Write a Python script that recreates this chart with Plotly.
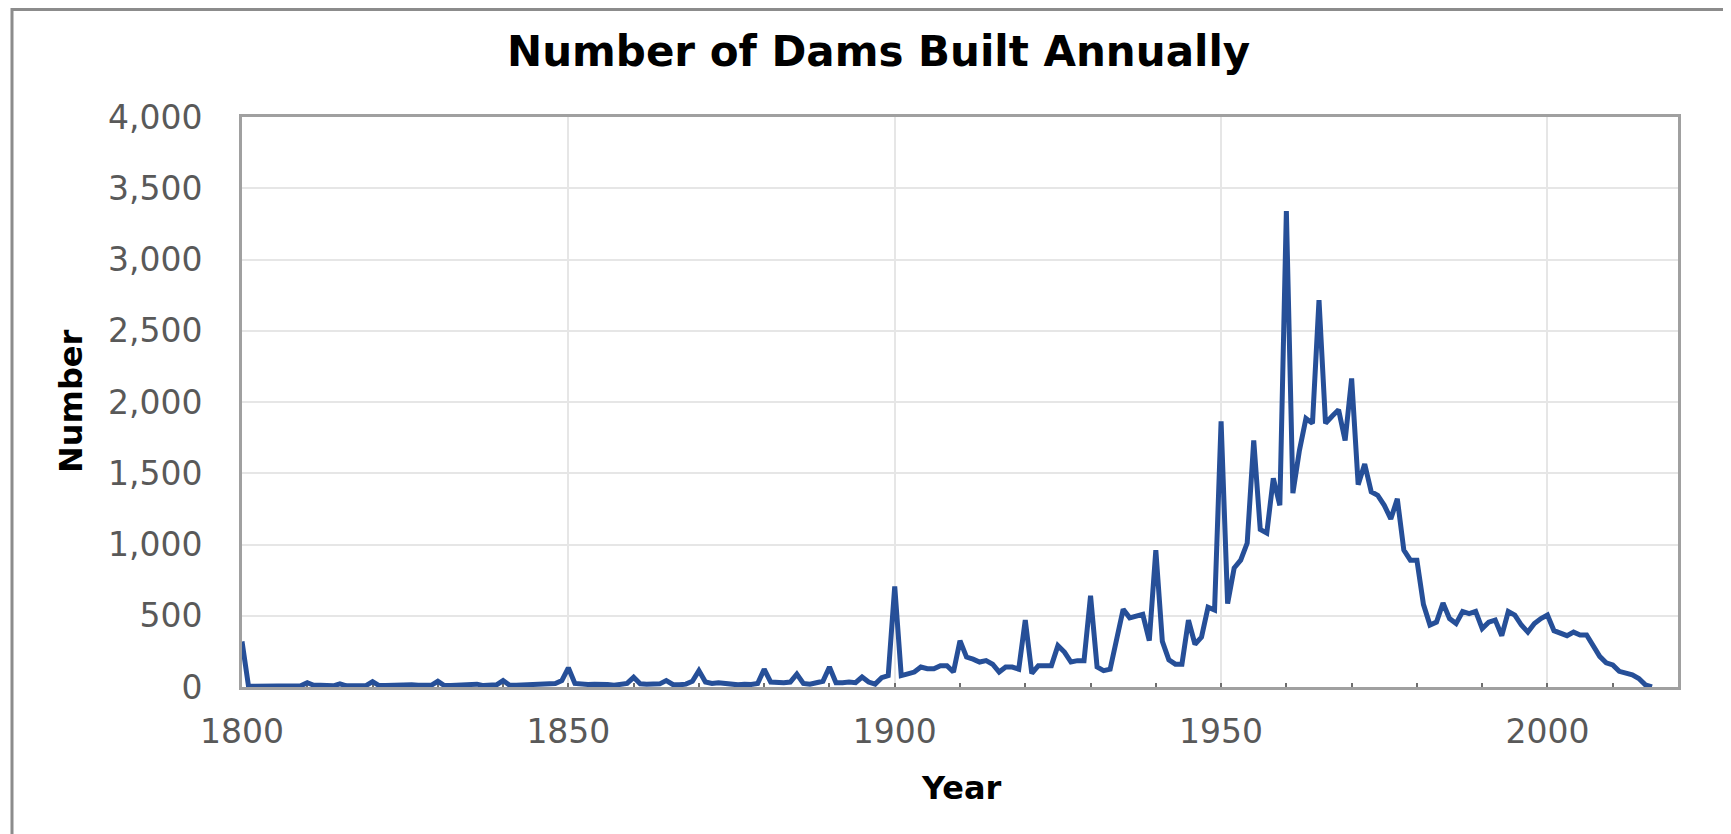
import plotly.graph_objects as go

# ---- data ----
years = list(range(1800, 2017))

counts_1800_1849 = [
    320, 5, 5, 5, 5, 8, 5, 5, 5, 8,
    30, 12, 12, 8, 8, 22, 8, 8, 8, 10,
    38, 10, 10, 12, 15, 20, 15, 12, 10, 12,
    40, 10, 10, 12, 15, 22, 20, 10, 12, 15,
    45, 12, 12, 14, 15, 18, 15, 18, 25, 45,
]
counts_1850_1899 = [
    135, 25, 18, 18, 20, 22, 18, 12, 15, 25,
    68, 22, 20, 18, 22, 45, 18, 15, 20, 40,
    115, 35, 25, 30, 25, 28, 15, 20, 18, 25,
    125, 35, 30, 30, 35, 90, 25, 20, 30, 40,
    140, 30, 30, 35, 30, 70, 35, 20, 65, 80,
]
counts_1900_1949 = [
    705, 80, 92, 105, 140, 128, 128, 150, 150, 105,
    325, 210, 195, 175, 185, 160, 105, 140, 140, 125,
    470, 95, 150, 150, 150, 290, 245, 175, 185, 185,
    640, 140, 115, 125, 325, 545, 485, 500, 510, 325,
    960, 320, 190, 160, 160, 470, 300, 350, 560, 540,
]
counts_1950_2016 = [
    1865, 585, 835, 890, 1010, 1730, 1105, 1080, 1465, 1275,
    3340, 1360, 1660, 1885, 1850, 2715, 1850, 1900, 1945, 1730,
    2165, 1420, 1565, 1370, 1345, 1275, 1180, 1320, 960, 890,
    890, 580, 435, 455, 590, 480, 445, 530, 515, 530,
    410, 455, 470, 360, 530, 505, 435, 385, 445, 480,
    505, 395, 375, 360, 385, 365, 365, 290, 215, 170,
    155, 110, 95, 85, 60, 15, 0,
]
counts = counts_1800_1849 + counts_1850_1899 + counts_1900_1949 + counts_1950_2016

x_ticks = [1800, 1850, 1900, 1950, 2000]
y_ticks = [0, 500, 1000, 1500, 2000, 2500, 3000, 3500, 4000]

title_text = "Number of Dams Built Annually"
x_title = "Year"
y_title = "Number"

# ---- figure ----
# the page body has an 8px margin, so the figure is drawn 8px right/down
OFF = 8
W, H = 1731 - OFF, 834 - OFF
# plot area in page pixels: left 242, right 1678, top 117, bottom 687
ML = 242 - OFF
MT = 117 - OFF
MR = W - (1678 - OFF)
MB = H - (687 - OFF)
pw = W - ML - MR
ph = H - MT - MB


def px_x(page_x):
    return (page_x - OFF - ML) / pw


def px_y(page_y):
    return (MT + ph - (page_y - OFF)) / ph


fig = go.Figure()
fig.add_trace(go.Scatter(
    x=years, y=counts, mode="lines",
    line=dict(color="#264F98", width=5),
    hoverinfo="x+y", showlegend=False,
))

tick_font = dict(family="DejaVu Sans", size=33, color="#595959")
frame_col = "#A0A0A0"

fig.update_layout(
    width=W, height=H,
    margin=dict(l=ML, r=MR, t=MT, b=MB, pad=0),
    paper_bgcolor="white", plot_bgcolor="white",
    xaxis=dict(
        range=[1800, 2020], tickvals=x_ticks, ticktext=[str(v) for v in x_ticks],
        tickfont=tick_font, showgrid=True, gridcolor="#E6E6E6", gridwidth=2,
        showline=True, linecolor=frame_col, linewidth=3, mirror=True,
        ticks="inside", ticklen=4, tickwidth=2, tickcolor="#6E6E6E",
        minor=dict(dtick=10, tick0=1800, ticks="inside", ticklen=4, tickwidth=2,
                   tickcolor="#6E6E6E", showgrid=False),
        ticklabelstandoff=13, zeroline=False, layer="below traces",
    ),
    yaxis=dict(
        range=[0, 4000], tickvals=y_ticks, ticktext=[f"{v:,}" for v in y_ticks],
        tickfont=tick_font, showgrid=True, gridcolor="#E6E6E6", gridwidth=2,
        showline=True, linecolor=frame_col, linewidth=3, mirror=True,
        ticks="", ticklabelstandoff=30, zeroline=False, layer="below traces",
    ),
)

# titles as annotations pinned to measured page positions
fig.add_annotation(
    text=title_text, xref="paper", yref="paper",
    x=px_x(878), y=px_y(51), xanchor="center", yanchor="middle",
    showarrow=False, font=dict(family="DejaVu Sans", size=42, color="black", weight="bold"),
)
fig.add_annotation(
    text=x_title, xref="paper", yref="paper",
    x=px_x(961), y=px_y(788), xanchor="center", yanchor="middle",
    showarrow=False, font=dict(family="DejaVu Sans", size=32, color="black", weight="bold"),
)
fig.add_annotation(
    text=y_title, xref="paper", yref="paper",
    x=px_x(71), y=px_y(401), xanchor="center", yanchor="middle",
    textangle=-90, showarrow=False,
    font=dict(family="DejaVu Sans", size=32, color="black", weight="bold"),
)

# outer chart border (partially visible in the reference)
fig.add_shape(
    type="rect", xref="paper", yref="paper",
    x0=px_x(12), x1=px_x(1731 + 60),
    y0=px_y(834 + 60), y1=px_y(OFF + 1.5),
    line=dict(color="#8C8C8C", width=3), fillcolor="rgba(0,0,0,0)", layer="below",
)

fig.write_html("out.html")
